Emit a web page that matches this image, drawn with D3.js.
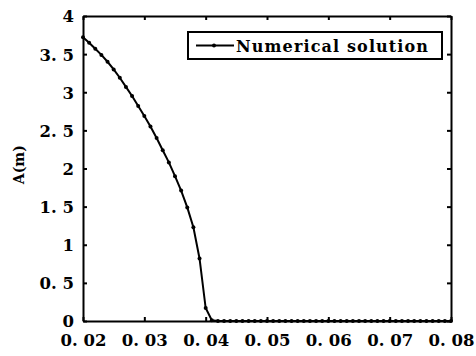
<!DOCTYPE html>
<html lang="en">
<head>
<meta charset="UTF-8">
<title>Numerical solution</title>
<style>
  body { margin: 0; background: #fff; }
  svg { display: block; }
  .tick text { font-family: "DejaVu Serif", serif; font-weight: bold; font-size: 16.5px; fill: #000; }
</style>
</head>
<body>
<svg width="476" height="356"></svg>
<script src="https://d3js.org/d3.v7.min.js"></script>
<script>
// x values (step 0.001) and amplitude A (m)
const xs = d3.range(20, 81).map(i => i / 1000);
const aVals = [
  3.72, 3.65, 3.57, 3.49, 3.40, 3.30, 3.19, 3.07, 2.95, 2.82,
  2.69, 2.55, 2.40, 2.24, 2.08, 1.90, 1.71, 1.49, 1.23, 0.82,
  0.17, 0.01, 0, 0, 0, 0, 0, 0, 0, 0,
  0, 0, 0, 0, 0, 0, 0, 0, 0, 0,
  0, 0, 0, 0, 0, 0, 0, 0, 0, 0,
  0, 0, 0, 0, 0, 0, 0, 0, 0, 0,
  0
];
const xTicks = [0.02, 0.03, 0.04, 0.05, 0.06, 0.07, 0.08];
const yTicks = [0, 0.5, 1, 1.5, 2, 2.5, 3, 3.5, 4];
const seriesName = "Numerical solution";

const margin = { top: 16, right: 25, bottom: 35, left: 83 };
const width = 476 - margin.left - margin.right;
const height = 356 - margin.top - margin.bottom;

const svg = d3.select("svg");
const g = svg.append("g").attr("transform", `translate(${margin.left},${margin.top})`);

const x = d3.scaleLinear().domain([0.02, 0.08]).range([0, width]);
const y = d3.scaleLinear().domain([0, 4]).range([height, 0]);

// "0. 02" style labels
const fmtX = d => d3.format(".2f")(d).replace(".", ". ");
const fmtY = d => (d % 1 === 0 ? String(d) : String(d).replace(".", ". "));

const axBottom = g.append("g").attr("transform", `translate(0,${height})`)
  .call(d3.axisBottom(x).tickValues(xTicks).tickFormat(fmtX).tickSizeInner(-4).tickSizeOuter(0).tickPadding(13));
const axLeft = g.append("g")
  .call(d3.axisLeft(y).tickValues(yTicks).tickFormat(fmtY).tickSizeInner(-4).tickSizeOuter(0).tickPadding(9));
const axTop = g.append("g")
  .call(d3.axisTop(x).tickValues(xTicks).tickFormat("").tickSizeInner(-4).tickSizeOuter(0));
const axRight = g.append("g").attr("transform", `translate(${width},0)`)
  .call(d3.axisRight(y).tickValues(yTicks).tickFormat("").tickSizeInner(-4).tickSizeOuter(0));

[axBottom, axLeft, axTop, axRight].forEach(a => {
  a.select(".domain").attr("stroke-width", 2);
  a.selectAll(".tick line").attr("stroke-width", 2);
});
axLeft.selectAll(".tick text").attr("dy", "0.36em");

// y axis title
svg.append("text")
  .attr("transform", `translate(24,${margin.top + y(2.05)}) rotate(-90)`)
  .attr("text-anchor", "middle")
  .attr("font-family", "DejaVu Serif, serif")
  .attr("font-weight", "bold")
  .attr("font-size", 14)
  .text("A(m)");

const pts = xs.map((d, i) => ({ x: d, a: aVals[i] }));

g.append("path")
  .datum(pts)
  .attr("fill", "none")
  .attr("stroke", "#000")
  .attr("stroke-width", 2)
  .attr("d", d3.line().x(d => x(d.x)).y(d => y(d.a)));

g.selectAll(".pt")
  .data(pts)
  .join("circle")
  .attr("class", "pt")
  .attr("cx", d => x(d.x))
  .attr("cy", d => y(d.a))
  .attr("r", 2)
  .attr("fill", "#000");

// legend
const lg = svg.append("g").attr("transform", "translate(188,32)");
lg.append("rect").attr("width", 254).attr("height", 27)
  .attr("fill", "#fff").attr("stroke", "#000").attr("stroke-width", 2);
lg.append("line").attr("x1", 8).attr("x2", 46).attr("y1", 13.5).attr("y2", 13.5)
  .attr("stroke", "#000").attr("stroke-width", 2);
lg.append("circle").attr("cx", 26).attr("cy", 13.5).attr("r", 2).attr("fill", "#000");
lg.append("text").attr("x", 48).attr("y", 19.5)
  .attr("font-family", "DejaVu Serif, serif")
  .attr("font-weight", "bold")
  .attr("font-size", 16)
  .attr("textLength", 192)
  .attr("lengthAdjust", "spacing")
  .text(seriesName);
</script>
</body>
</html>
